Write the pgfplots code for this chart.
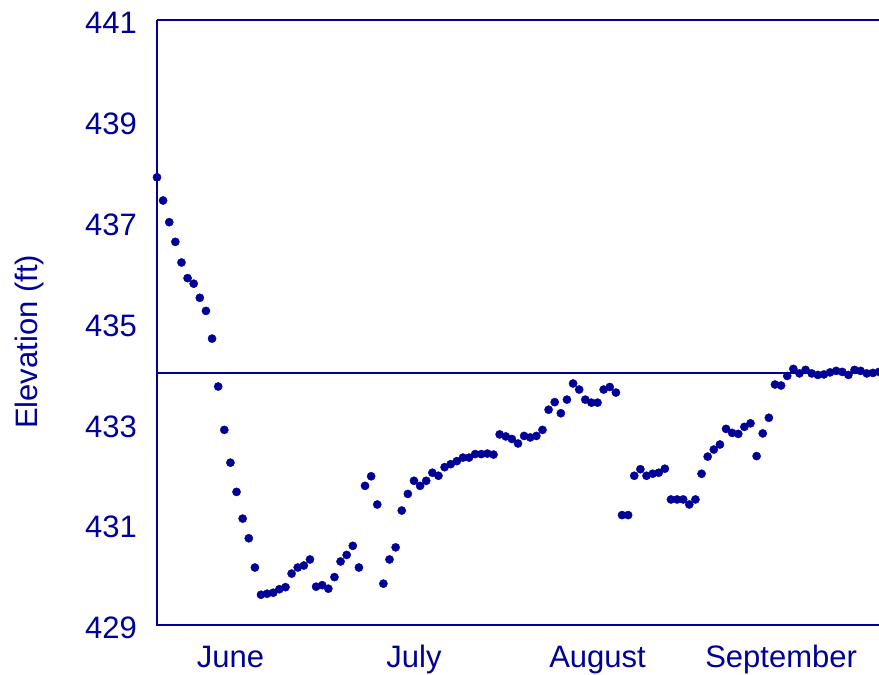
\documentclass[border=0pt]{standalone}
\usepackage{fontspec}
\setmainfont{Liberation Sans}
\usepackage{pgfplots}
\pgfplotsset{compat=1.18}
\usepackage{pgfplotstable}
\definecolor{nv}{RGB}{0,0,153}
\newcommand\lab{\fontsize{31bp}{36bp}\selectfont}
\newcommand\ylab{\fontsize{31bp}{36bp}\selectfont}
\pgfplotstableread{
d elev
0 437.88
1 437.42
2 436.99
3 436.60
4 436.19
5 435.88
6 435.77
7 435.49
8 435.23
9 434.68
10 433.73
11 432.87
12 432.22
13 431.64
14 431.11
15 430.72
16 430.14
17 429.60
18 429.62
19 429.64
20 429.71
21 429.75
22 430.02
23 430.14
24 430.18
25 430.30
26 429.76
27 429.79
28 429.72
29 429.95
30 430.26
31 430.39
32 430.57
33 430.14
34 431.76
35 431.95
36 431.39
37 429.82
38 430.30
39 430.54
40 431.27
41 431.60
42 431.86
43 431.76
44 431.86
45 432.02
46 431.96
47 432.13
48 432.19
49 432.25
50 432.32
51 432.32
52 432.39
53 432.39
54 432.40
55 432.38
56 432.78
57 432.74
58 432.69
59 432.60
60 432.75
61 432.72
62 432.75
63 432.87
64 433.27
65 433.42
66 433.20
67 433.47
68 433.79
69 433.67
70 433.47
71 433.41
72 433.41
73 433.67
74 433.72
75 433.61
76 431.18
77 431.18
78 431.96
79 432.09
80 431.96
81 432.00
82 432.02
83 432.10
84 431.49
85 431.49
86 431.49
87 431.39
88 431.49
89 432.00
90 432.34
91 432.48
92 432.58
93 432.89
94 432.81
95 432.79
96 432.93
97 433.00
98 432.35
99 432.80
100 433.11
101 433.77
102 433.75
103 433.94
104 434.08
105 433.99
106 434.06
107 433.99
108 433.96
109 433.97
110 434.01
111 434.04
112 434.02
113 433.96
114 434.06
115 434.04
116 433.99
117 434.00
118 434.02
}\elevtable
\begin{document}
\begin{tikzpicture}
\begin{axis}[
  scale only axis,
  width=722bp, height=605bp,
  xmin=0, xmax=118,
  ymin=429, ymax=441,
  clip=false,
  axis line style={draw=none},
  major tick length=0pt,
  xtick={12,42,72,102},
  xticklabels={June,July,August,September},
  ytick={429,431,...,441},
  /pgf/number format/assume math mode=true,
  tick label style={font=\lab, text=nv},
  yticklabel style={anchor=east, inner sep=0pt, xshift=-20bp, yshift=-3bp},
  xticklabel style={anchor=north, inner sep=0pt, yshift=-35bp, text height=0.72em, text depth=0.21em},
  ylabel={Elevation (ft)},
  ylabel style={font=\ylab, text=nv, at={(axis description cs:-0.177,0.468)}, anchor=center},
]
\draw[nv, line width=1.6bp] (rel axis cs:0,1) -- (rel axis cs:0,0) -- (rel axis cs:1,0);
\draw[nv, line width=1.6bp] (rel axis cs:0,1) -- (rel axis cs:1,1);
\addplot[nv, line width=1.6bp, no marks] coordinates {(0,434.0) (118,434.0)};
\addplot[only marks, mark=*, mark size=4.1bp, color=nv, mark options={fill=nv, draw=nv}] table[x=d, y=elev] {\elevtable};
\coordinate (bl) at (rel axis cs:0,0);
\coordinate (tr) at (rel axis cs:1,1);
\end{axis}
\pgfresetboundingbox
\path ([xshift=-157bp,yshift=-50bp]bl) rectangle ([yshift=20bp]tr);
\end{tikzpicture}
\end{document}
